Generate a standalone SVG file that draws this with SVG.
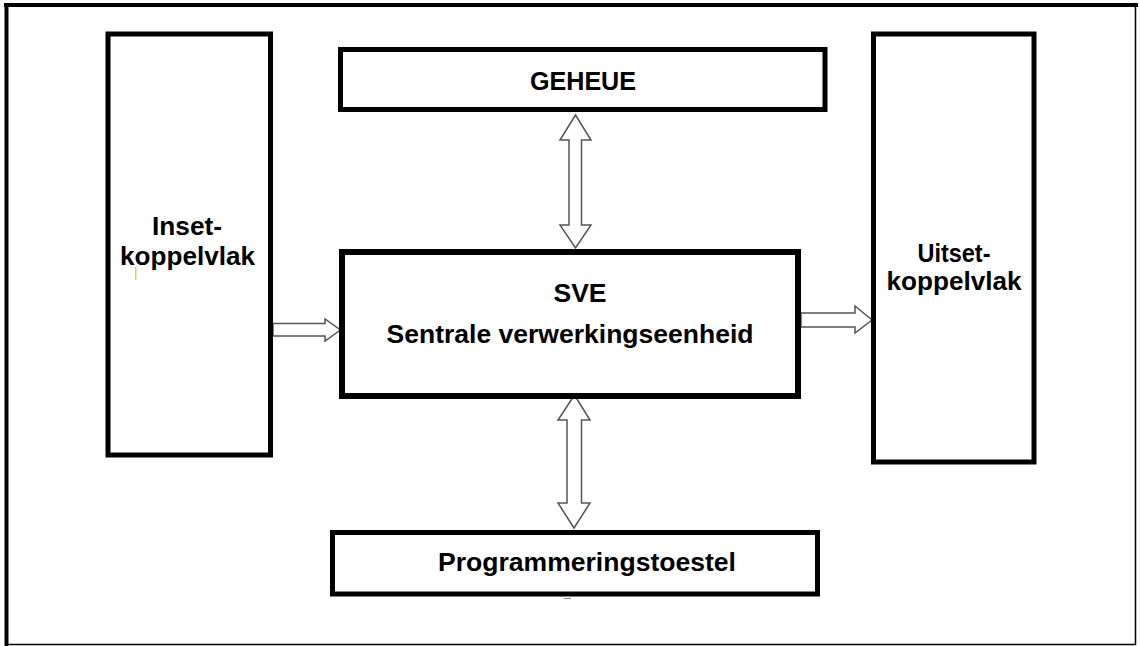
<svg xmlns="http://www.w3.org/2000/svg" width="1140" height="646" viewBox="0 0 1140 646">
<style>
.box{fill:#fff;stroke:#000;stroke-width:5}
.t{font-family:"Liberation Sans",Arial,sans-serif;font-weight:bold;font-size:25px;fill:#000;text-anchor:middle}
.arr{fill:#fff;stroke:#555;stroke-width:1.5;stroke-linejoin:miter}
</style>
<rect x="0" y="0" width="1140" height="646" fill="#fff"/>
<g id="frame">
<line x1="4" y1="5" x2="1138" y2="5" stroke="#000" stroke-width="4"/>
<line x1="6.5" y1="3" x2="6.5" y2="646" stroke="#000" stroke-width="4"/>
<line x1="1135.5" y1="5" x2="1135.5" y2="645" stroke="#000" stroke-width="1.5"/>
<line x1="5" y1="644.5" x2="1136" y2="644.5" stroke="#000" stroke-width="1.5"/>
</g>
<g id="connectors">
<polygon class="arr" points="273,323.5 325,323.5 325,319 340.5,330 325,341 325,336 273,336"/>
<polygon class="arr" points="801,313 855,313 855,306 872,320 855,333 855,327 801,327"/>
<polygon class="arr" points="575.5,115 591,140 581.5,140 581.5,225 591,225 575.5,248 560,225 569,225 569,140 560,140"/>
<polygon class="arr" points="574.5,395 590,420 581.5,420 581.5,503 590,503 574,528 558,503 567,503 567,420 558,420"/>
</g>
<g id="inset">
<rect class="box" x="108" y="34" width="162.5" height="421"/>
<text class="t" x="187" y="235" textLength="70" lengthAdjust="spacingAndGlyphs">Inset-</text>
<text class="t" x="187.5" y="265" textLength="135" lengthAdjust="spacingAndGlyphs">koppelvlak</text>
<line x1="135.7" y1="267" x2="135.7" y2="280" stroke="#f5b87a" stroke-width="1.5"/>
</g>
<g id="geheue">
<rect class="box" x="340.5" y="49.5" width="484.5" height="60"/>
<text class="t" x="583" y="90" textLength="106" lengthAdjust="spacingAndGlyphs">GEHEUE</text>
</g>
<g id="sve">
<rect class="box" x="342" y="252" width="456" height="144" style="stroke-width:6"/>
<text class="t" x="580" y="302" textLength="53" lengthAdjust="spacingAndGlyphs">SVE</text>
<text class="t" x="570" y="343" textLength="367" lengthAdjust="spacingAndGlyphs">Sentrale verwerkingseenheid</text>
</g>
<g id="uitset">
<rect class="box" x="873.5" y="34" width="160.5" height="428"/>
<text class="t" x="954" y="262" textLength="73" lengthAdjust="spacingAndGlyphs">Uitset-</text>
<text class="t" x="954" y="290" textLength="135" lengthAdjust="spacingAndGlyphs">koppelvlak</text>
</g>
<g id="program">
<rect class="box" x="332.5" y="532.5" width="485" height="61.5"/>
<text class="t" x="587" y="571" textLength="298" lengthAdjust="spacingAndGlyphs">Programmeringstoestel</text>
<line x1="564" y1="598.5" x2="571" y2="598.5" stroke="#888" stroke-width="1"/>
</g>
</svg>
